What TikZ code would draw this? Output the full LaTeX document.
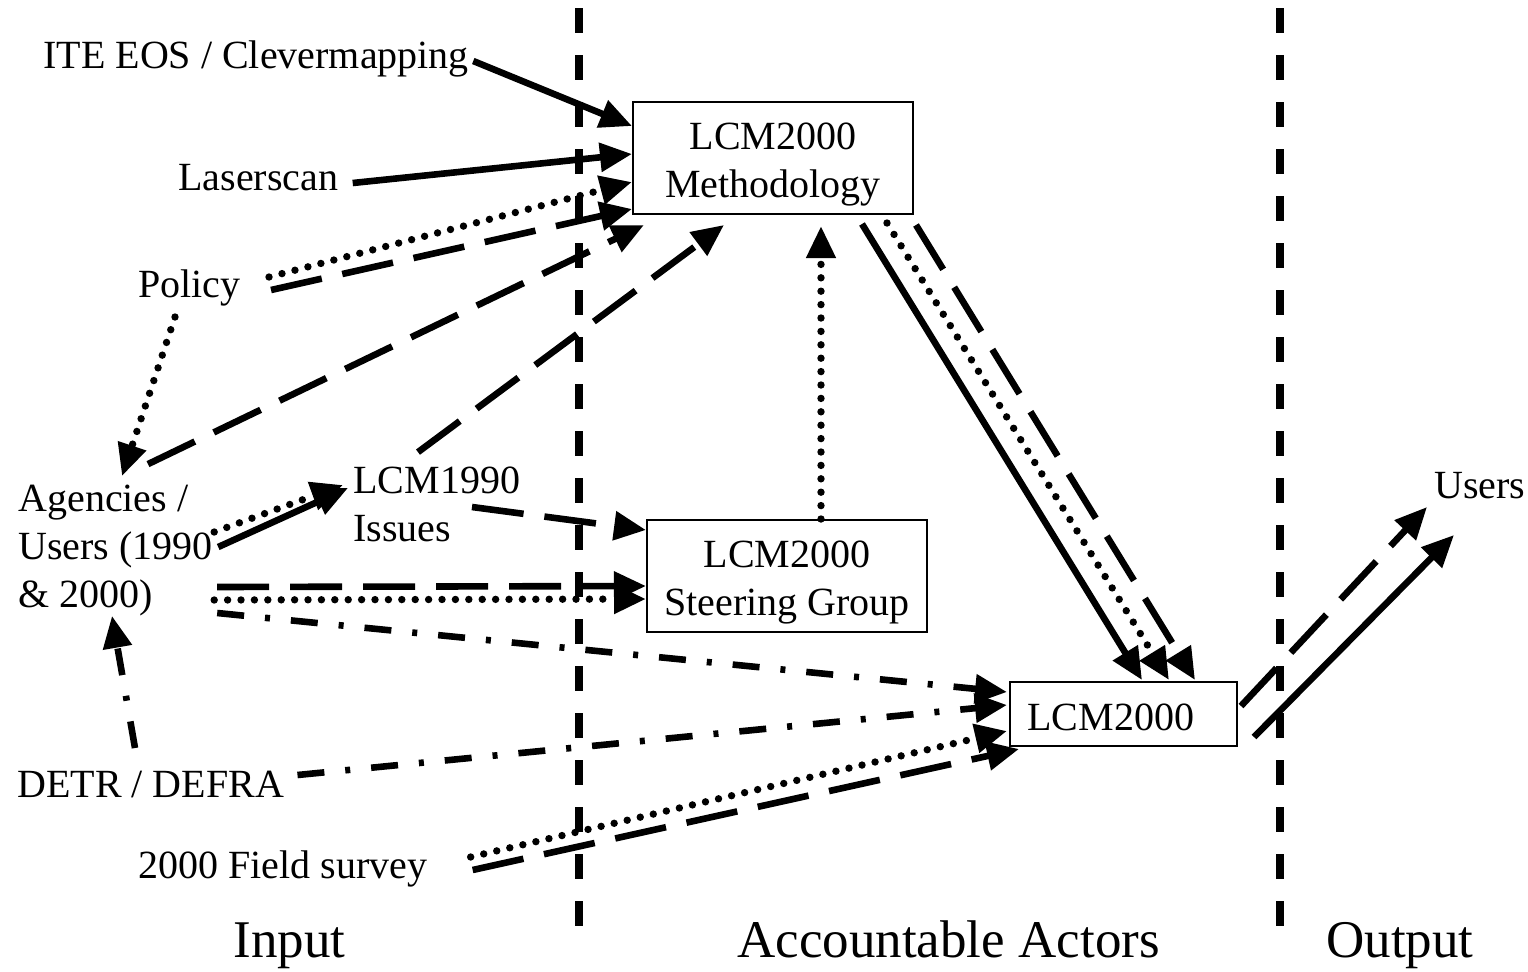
\documentclass[tikz,border=0pt]{standalone}
\usepackage{fontspec}
\setmainfont{Liberation Serif}
\usetikzlibrary{arrows.meta,calc}

\begin{document}
\begin{tikzpicture}[x=0.5pt,y=-0.5pt,
  font=\fontsize{20}{24}\selectfont,
  lbl/.style={inner sep=0pt, align=left},
  boxnode/.style={draw, line width=1pt, fill=white, inner sep=0pt},
  arrowed/.style={-{Triangle[length=16pt,width=14pt]}},
  solidln/.style={line width=3.3pt, arrowed},
  dashln/.style={line width=3.3pt, dash pattern=on 26pt off 10.5pt, arrowed},
  dotln/.style={line width=3.7pt, line cap=round, dash pattern=on 0pt off 6.7pt, arrowed},
  dashdotln/.style={line width=3.3pt, dash pattern=on 13.5pt off 10.5pt on 2.5pt off 10.5pt, arrowed},
  divider/.style={line width=3.6pt, dash pattern=on 12.5pt off 11pt},
  heading/.style={inner sep=0pt, font=\fontsize{26.5}{32}\selectfont}
]
\useasboundingbox (0,0) rectangle (1528,971);

% column separators
\draw[divider] (579,8) -- (579,930);
\draw[divider] (1280,8) -- (1280,930);

% boxes
\node[boxnode, minimum width=140pt, minimum height=56pt] (meth) at (773,158) {};
\node[lbl, align=center] (methtxt) at (773,165) {LCM2000\\Methodology};
\node[boxnode, minimum width=140pt, minimum height=56pt] (steer) at (787,576) {};
\node[lbl, align=center] (steertxt) at (787,583) {LCM2000\\Steering Group};
\node[boxnode, minimum width=113.5pt, minimum height=32pt] (lcm) at (1123.5,714) {};
\node[lbl, anchor=base west] (lcmtxt) at (1027,730) {LCM2000};

% free labels
\node[lbl, anchor=base west] (ite) at (43,68) {ITE EOS / Clevermapping};
\node[lbl, anchor=base west] (laser) at (178,190) {Laserscan};
\node[lbl, anchor=base west] (policy) at (138,297) {Policy};
\node[lbl, anchor=west] (agency) at (18,551) {Agencies /\\Users (1990\\\& 2000)};
\node[lbl, anchor=west] (lcm90) at (353,504) {LCM1990\\Issues};
\node[lbl, anchor=base west] (detr) at (17,797) {DETR / DEFRA};
\node[lbl, anchor=base west] (field) at (138,878) {2000 Field survey};
\node[lbl, anchor=base west] (users) at (1434,498) {Users};

% column headings
\node[heading, anchor=base west] (input) at (233,957) {Input};
\node[heading, anchor=base west] (actors) at (737,957) {Accountable Actors};
\node[heading, anchor=base west] (output) at (1326,957) {Output};

% into the methodology box
\draw[solidln] ($(ite.base east)+(4,-7)$) -- ($(meth.north west)+(0,25)$);
\draw[solidln] ($(laser.base east)+(14,-7)$) -- ($(meth.north west)+(0,53)$);
\draw[dotln] ($(policy.base east)+(28,-20)$) -- ($(meth.north west)+(0,81)$);
\draw[dashln] ($(policy.base east)+(30,-7)$) -- ($(meth.north west)+(0,108)$);
\draw[dashln] ($(agency.north west)+(130,-21)$) -- ($(meth.south west)+(12,10)$);
\draw[dashln] ($(lcm90.north west)+(65,-14)$) -- ($(meth.south west)+(92,10)$);
\draw[dotln] ($(steer.north west)+(175,0)$) -- ($(meth.south west)+(189,11)$);

% policy to agencies
\draw[dotln] ($(policy.base west)+(37,20)$) -- ($(agency.north west)+(104,-9)$);

% agencies to LCM1990 issues
\draw[dotln] ($(agency.east)+(1,-19)$) -- ($(lcm90.west)+(-10,-19)$);
\draw[solidln] ($(agency.east)+(5,-4)$) -- ($(lcm90.west)+(-5,-16)$);

% into the steering group
\draw[dashln] ($(lcm90.west)+(119,3)$) -- ($(steer.north west)+(0,11)$);
\draw[dashln] ($(agency.east)+(4,36)$) -- ($(steer.north west)+(0,67)$);
\draw[dotln] ($(agency.east)+(1,49)$) -- ($(steer.north west)+(0,80)$);

% methodology to LCM2000
\draw[solidln] ($(meth.south west)+(230,9)$) -- ($(lcm.north west)+(133,-1)$);
\draw[dotln] ($(meth.south west)+(255,8)$) -- ($(lcm.north west)+(160,-1)$);
\draw[dashln] ($(meth.south west)+(284,10)$) -- ($(lcm.north west)+(186,-1)$);

% other inputs to LCM2000
\draw[dashdotln] ($(agency.east)+(4,62)$) -- ($(lcm.north west)+(-2,11)$);
\draw[dashdotln] ($(detr.base east)+(13,-22)$) -- ($(lcm.north west)+(-2,24)$);
\draw[dashdotln] ($(detr.base west)+(118,-49)$) -- ($(agency.south west)+(94,-1)$);
\draw[dotln] ($(field.base east)+(43,-21)$) -- ($(lcm.north west)+(-2,50)$);
\draw[dashln] ($(field.base east)+(45,-8)$) -- ($(lcm.south west)+(10,2)$);

% output
\draw[dashln] ($(lcm.north east)+(3,25)$) -- ($(users.base west)+(-7,9)$);
\draw[solidln] ($(lcm.south east)+(16,-10)$) -- ($(users.base west)+(20,37)$);
\end{tikzpicture}
\end{document}
